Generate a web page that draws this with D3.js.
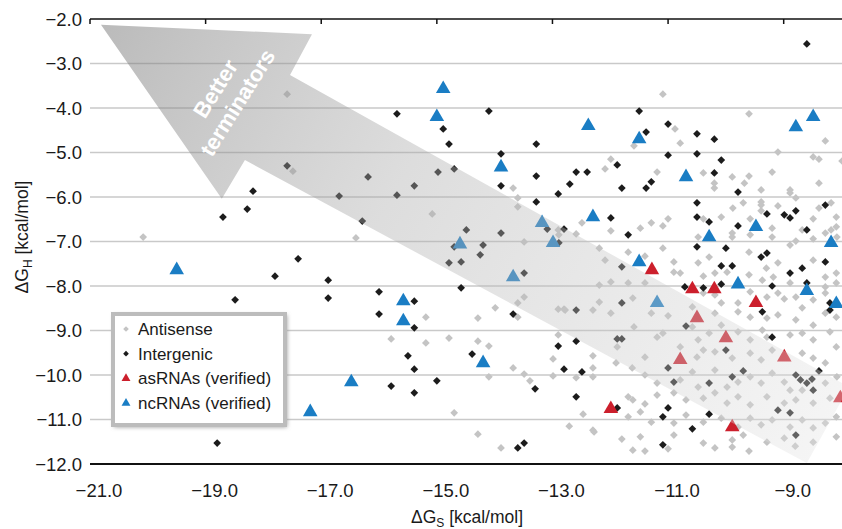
<!DOCTYPE html>
<html><head><meta charset="utf-8">
<script src="https://cdn.jsdelivr.net/npm/d3@7"></script>
<style>
body{margin:0;background:#fff;}
svg{display:block;font-family:"Liberation Sans",Arial,Helvetica,sans-serif;}
</style>
</head><body>
<svg id="chart" width="842" height="529"></svg>
<script>
// ---------- tick values ----------
const xTicks = [-21, -19, -17, -15, -13, -11, -9];
const yTicks = [-2, -3, -4, -5, -6, -7, -8, -9, -10, -11, -12];

// ---------- series (ΔGS, ΔGH) ----------
const antisense = [
[-20.08,-6.90],[-17.59,-3.69],[-17.49,-5.42],
[-15.08,-6.38],[-16.40,-6.92],[-13.68,-5.80],[-13.60,-6.02],[-13.60,-6.22],[-13.49,-7.01],[-12.90,-6.74],[-12.89,-6.85],
[-13.49,-8.25],[-13.60,-8.38],[-13.99,-8.49],[-14.29,-8.72],[-15.19,-8.70],[-13.60,-8.70],[-12.90,-8.52],[-12.80,-8.52],
[-15.79,-9.19],[-15.19,-9.28],[-14.79,-9.17],[-14.29,-9.24],[-14.10,-9.35],[-13.68,-9.84],[-14.10,-10.04],[-13.49,-9.98],[-13.39,-10.13],[-12.99,-9.64],[-12.99,-10.02],[-12.90,-9.10],[-14.70,-10.85],[-14.29,-11.33],[-13.89,-11.64],[-12.71,-11.15],
[-12.47,-10.88],[-12.28,-11.28],[-11.40,-11.71],
[-11.09,-3.69],[-9.60,-4.13],[-10.88,-4.47],[-10.79,-4.79],[-11.59,-4.85],[-8.28,-4.74],[-9.10,-4.99],[-8.49,-5.10],[-8.39,-5.15],[-7.99,-5.19],[-11.99,-5.15],[-12.09,-5.37],[-11.19,-5.44],[-10.39,-5.46],[-10.20,-5.69],[-10.20,-5.80],[-9.89,-5.55],[-9.68,-5.69],[-9.60,-5.53],[-9.39,-5.84],[-9.20,-5.44],[-8.89,-5.84],[-8.89,-5.91],[-8.79,-6.02],[-8.39,-5.69],
[-9.88,-6.25],[-9.70,-6.13],[-9.39,-6.11],[-9.39,-6.18],[-9.39,-6.31],[-9.10,-6.20],[-8.39,-6.25],[-8.18,-6.13],[-8.09,-6.45],[-8.18,-6.74],[-8.09,-6.67],
[-12.49,-6.58],[-12.59,-6.83],[-11.99,-6.76],[-11.48,-6.70],[-11.29,-6.58],[-11.09,-6.65],[-11.00,-6.49],[-10.39,-6.49],[-10.08,-6.45],[-9.89,-6.81],[-9.89,-6.90],[-9.58,-6.85],[-9.20,-6.70],[-9.20,-6.90],[-8.79,-6.99],[-8.68,-6.74],[-8.49,-6.49],[-8.49,-6.94],[-8.28,-6.81],[-8.08,-6.90],[-10.48,-6.90],[-9.58,-6.49],
[-12.19,-7.15],[-12.09,-7.42],[-11.69,-7.24],[-11.40,-7.33],[-11.09,-7.15],[-8.89,-7.08],[-9.60,-7.24],
[-10.90,-7.46],[-10.48,-7.48],[-10.29,-7.35],[-9.60,-7.75],[-9.30,-7.60],[-9.10,-7.48],[-8.49,-7.42],[-8.09,-7.71],[-8.28,-7.80],[-10.90,-7.69],[-10.79,-7.71],[-10.39,-7.78],[-10.19,-7.71],[-9.98,-7.69],[-9.37,-7.87],[-9.18,-7.80],[-8.89,-7.93],[-8.28,-8.02],[-8.09,-7.93],[-12.19,-7.98],[-11.99,-7.91],[-11.69,-7.93],[-11.40,-7.93],[-10.39,-8.16],[-10.19,-8.20],[-10.08,-8.38],[-9.79,-8.38],[-9.58,-8.13],[-9.29,-8.25],[-9.10,-8.16],[-8.99,-8.29],[-8.79,-8.25],[-8.68,-8.49],[-8.49,-8.31],[-8.28,-8.16],[-8.09,-8.70],
[-12.78,-8.54],[-12.30,-8.54],[-12.19,-8.36],[-11.99,-8.61],[-11.61,-8.27],[-11.29,-8.61],[-11.00,-8.67],[-10.58,-8.47],[-10.19,-8.61],[-9.79,-8.58],[-9.58,-8.70],[-9.29,-8.72],[-9.10,-8.65],[-8.79,-8.76],[-8.49,-8.88],[-8.28,-8.61],
[-11.59,-8.92],[-11.19,-9.15],[-11.09,-9.06],[-10.79,-9.37],[-10.58,-8.92],[-10.48,-9.21],[-10.29,-9.06],[-10.08,-8.88],[-9.79,-9.03],[-9.58,-9.21],[-9.37,-8.99],[-9.29,-9.15],[-8.89,-9.10],[-8.68,-9.06],[-8.49,-9.21],[-8.20,-9.03],[-8.09,-9.37],[-12.30,-9.57],[-11.88,-9.37],[-11.40,-9.60],[-10.50,-9.60],[-10.39,-9.44],[-10.19,-9.48],[-9.89,-9.62],[-9.58,-9.51],[-9.39,-9.66],[-9.20,-9.44],[-8.68,-9.51],[-8.49,-9.62],[-8.28,-9.73],
[-11.62,-9.84],[-11.40,-10.00],[-11.19,-10.18],[-10.79,-10.11],[-10.58,-9.93],[-10.48,-10.27],[-10.19,-9.89],[-9.98,-10.27],[-9.79,-10.16],[-9.58,-10.04],[-9.39,-10.18],[-9.20,-9.96],[-8.99,-10.16],[-8.89,-10.34],[-8.68,-10.34],[-8.28,-10.18],[-8.08,-10.04],[-12.30,-10.04],[-11.69,-10.49],[-11.61,-10.56],[-11.40,-10.65],[-11.19,-10.45],[-10.90,-10.40],[-10.69,-10.56],[-10.39,-10.52],[-10.19,-10.40],[-9.98,-10.63],[-9.79,-10.49],[-9.58,-10.67],[-9.29,-10.49],[-8.99,-10.63],[-8.79,-10.56],[-8.49,-10.63],[-8.20,-10.52],
[-12.30,-9.84],[-12.59,-10.06],[-11.90,-9.73],
[-12.30,-11.24],[-11.69,-10.94],[-11.48,-10.83],[-11.29,-11.06],[-10.90,-11.08],[-10.69,-10.90],[-10.39,-11.06],[-10.08,-10.97],[-9.79,-11.17],[-9.58,-10.97],[-9.39,-11.12],[-9.20,-11.01],[-8.89,-11.17],[-8.68,-11.01],[-8.49,-11.19],[-8.28,-11.08],[-8.09,-10.94],[-11.80,-11.44],[-11.48,-11.39],[-10.90,-11.35],[-10.39,-11.53],[-9.89,-11.46],[-9.70,-11.35],[-9.29,-11.51],[-8.99,-11.42],[-8.49,-11.51],[-8.09,-11.39],
[-11.61,-11.69],[-11.00,-11.66],[-10.19,-11.64],[-9.89,-11.62],[-9.60,-11.71],[-8.80,-11.60]
];

const intergenic = [
[-17.59,-5.30],[-18.18,-5.87],[-18.28,-6.27],[-18.70,-6.45],[-17.40,-7.39],[-17.80,-7.78],[-18.49,-8.31],[-18.80,-11.53],
[-15.69,-4.13],[-14.10,-4.07],[-14.89,-4.47],[-14.79,-4.81],[-13.28,-4.81],[-13.89,-5.03],[-13.28,-5.53],[-13.89,-5.75],[-12.90,-5.93],[-13.28,-6.11],
[-16.19,-5.55],[-16.69,-5.98],[-15.69,-5.96],[-15.39,-5.75],[-14.98,-5.44],[-14.70,-5.37],[-16.29,-6.54],[-14.49,-6.74],[-13.89,-6.81],[-14.20,-7.08],[-14.70,-7.12],[-13.09,-6.72],[-14.25,-7.30],[-14.79,-7.48],[-14.58,-7.46],[-13.49,-7.71],[-12.89,-7.03],[-12.80,-6.72],[-12.70,-5.71],
[-16.88,-7.87],[-16.88,-8.27],[-16.00,-8.13],[-16.00,-8.63],[-15.39,-8.34],[-15.39,-8.94],[-14.58,-8.04],[-13.68,-8.63],[-15.50,-9.57],[-15.39,-9.87],[-15.79,-10.25],[-15.39,-10.40],[-15.00,-10.13],[-14.39,-9.53],[-13.30,-10.31],[-12.90,-9.35],[-12.80,-9.87],[-13.60,-11.64],[-13.49,-11.53],
[-8.60,-2.56],[-11.50,-4.07],[-11.00,-4.36],[-11.38,-4.54],[-10.50,-4.58],[-10.20,-4.70],[-11.00,-5.06],[-10.50,-5.03],[-10.08,-5.17],[-11.88,-5.28],[-12.59,-5.44],[-12.40,-5.44],[-10.20,-5.46],[-11.29,-5.66],[-11.80,-5.80],[-11.38,-5.80],[-9.79,-5.89],[-10.50,-6.13],[-9.29,-6.38],[-8.99,-6.40],[-8.89,-6.47],[-8.79,-6.31],[-8.28,-6.18],[-11.99,-6.47],[-10.50,-6.45],[-10.29,-6.56],[-11.69,-6.85],[-9.79,-6.65],[-8.60,-6.74],[-10.50,-7.12],[-10.00,-7.15],
[-11.80,-7.57],[-10.08,-7.55],[-9.89,-7.55],[-9.39,-7.35],[-9.29,-7.26],[-8.89,-7.71],[-8.68,-7.60],[-8.28,-7.46],[-8.60,-7.93],[-10.71,-8.02],[-10.39,-8.04],[-10.08,-7.96],[-9.20,-8.00],[-9.37,-8.58],[-8.20,-8.38],[-8.20,-8.54],[-12.59,-8.54],[-12.59,-9.24],[-9.20,-9.15],[-12.49,-9.93],[-12.59,-10.49],[-11.88,-10.74],[-11.00,-10.74],[-11.09,-10.94],[-10.29,-10.88],[-10.58,-11.21],[-11.09,-11.57],
[-11.80,-8.38],[-10.69,-8.90],[-11.88,-9.19],[-11.80,-9.19],[-10.00,-9.44],[-11.00,-9.84],[-9.70,-9.91],[-9.89,-10.04],[-10.90,-10.16],[-10.29,-10.18],[-9.10,-10.79],[-8.79,-11.35],
[-8.79,-10.00],[-8.71,-10.11],[-8.60,-10.18],[-8.51,-10.09],[-8.39,-9.91],[-8.49,-10.34],[-8.89,-10.85]
];

const asRNAs = [
[-11.28,-7.64],[-10.58,-8.07],[-10.20,-8.07],[-9.48,-8.38],[-10.50,-8.72],[-10.00,-9.17],
[-10.79,-9.66],[-8.99,-9.60],[-8.02,-10.52],[-11.99,-10.76],[-9.89,-11.17]
];

const ncRNAs = [
[-19.50,-7.64],[-14.89,-3.57],[-15.00,-4.20],[-13.89,-5.33],[-12.38,-4.40],[-11.50,-4.70],[-10.69,-5.55],
[-8.79,-4.43],[-8.49,-4.20],[-12.30,-6.45],[-10.29,-6.90],[-9.48,-6.67],[-8.18,-7.03],[-11.50,-7.46],
[-9.79,-7.96],[-8.60,-8.11],[-8.09,-8.40],[-11.19,-8.38],[-13.18,-6.58],[-12.99,-7.03],[-14.60,-7.06],
[-13.68,-7.80],[-15.58,-8.34],[-15.58,-8.79],[-14.20,-9.73],[-16.48,-10.16],[-17.19,-10.83]
];

// annotation arrow outline, in data units
const arrowOutline = [
[-20.81,-2.13],[-17.16,-2.34],[-17.54,-3.26],[-7.87,-10.27],[-8.60,-11.98],[-18.32,-5.17],[-18.72,-6.04]
];
const arrowLabel = ["Better", "terminators"];
const legendItems = [
  {label:"Antisense", kind:"antisense"},
  {label:"Intergenic", kind:"intergenic"},
  {label:"asRNAs (verified)", kind:"as"},
  {label:"ncRNAs (verified)", kind:"nc"}
];

// ---------- drawing ----------
const W = 842, H = 529;
const svg = d3.select("#chart");
const x = d3.scaleLinear().domain([-21, -8]).range([90, 841.5]);
const y = d3.scaleLinear().domain([-12, -2]).range([464, 19]);
const fmt = d3.format(".1f");

const colors = {antisense:"#c4c4c4", intergenic:"#1c1c1c", as:"#cc1f2c", nc:"#1a7dc4"};

const defs = svg.append("defs");
const grad = defs.append("linearGradient").attr("id","arrowGrad")
  .attr("gradientUnits","userSpaceOnUse")
  .attr("x1", x(-20.81)).attr("y1", y(-2.13))
  .attr("x2", x(-8.2)).attr("y2", y(-11.1));
grad.append("stop").attr("offset","0").attr("stop-color","#767676").attr("stop-opacity",0.5);
grad.append("stop").attr("offset","0.4").attr("stop-color","#a9a9a9").attr("stop-opacity",0.4);
grad.append("stop").attr("offset","1").attr("stop-color","#e2e2e2").attr("stop-opacity",0.36);

const sh = defs.append("filter").attr("id","shadow").attr("x","-20%").attr("y","-20%").attr("width","140%").attr("height","140%");
sh.append("feGaussianBlur").attr("stdDeviation",2);

// gridlines
svg.append("g").selectAll("line").data(yTicks.filter(v => v !== -2 && v !== -12)).join("line")
  .attr("x1", x(-21)).attr("x2", W)
  .attr("y1", d => y(d)).attr("y2", d => y(d))
  .attr("stroke", "#c9c9c9").attr("stroke-width", 1.5);

// points
const diamond = d3.symbol().type(d3.symbolSquare).size(30);
const tri = d3.symbol().type(d3.symbolTriangle).size(92);

svg.append("g").selectAll("path").data(antisense).join("path")
  .attr("d", diamond)
  .attr("transform", d => `translate(${x(d[0])},${y(d[1])}) rotate(45)`)
  .attr("fill", colors.antisense);
svg.append("g").selectAll("path").data(intergenic).join("path")
  .attr("d", diamond)
  .attr("transform", d => `translate(${x(d[0])},${y(d[1])}) rotate(45)`)
  .attr("fill", colors.intergenic);
svg.append("g").selectAll("path").data(asRNAs).join("path")
  .attr("d", tri)
  .attr("transform", d => `translate(${x(d[0])},${y(d[1])})`)
  .attr("fill", colors.as);
svg.append("g").selectAll("path").data(ncRNAs).join("path")
  .attr("d", tri)
  .attr("transform", d => `translate(${x(d[0])},${y(d[1])})`)
  .attr("fill", colors.nc);

// arrow overlay
svg.append("path")
  .attr("d", d3.line().x(d => x(d[0])).y(d => y(d[1])).curve(d3.curveLinearClosed)(arrowOutline))
  .attr("fill", "url(#arrowGrad)");

const lab = svg.append("g")
  .attr("transform", `translate(${x(-18.63)},${y(-3.73)}) rotate(-58)`);
lab.selectAll("text").data(arrowLabel).join("text")
  .attr("x", 0).attr("y", (d, i) => i === 0 ? -6 : 20)
  .attr("text-anchor", "middle")
  .attr("fill", "#ffffff").attr("font-weight", "bold").attr("font-size", 22)
  .text(d => d);

// axes lines
svg.append("line").attr("x1", x(-21)).attr("x2", W).attr("y1", y(-2)).attr("y2", y(-2))
  .attr("stroke", "#111").attr("stroke-width", 1.5);
svg.append("line").attr("x1", x(-21)).attr("x2", W).attr("y1", y(-12)).attr("y2", y(-12))
  .attr("stroke", "#111").attr("stroke-width", 2);
svg.append("g").selectAll("line").data(xTicks).join("line")
  .attr("x1", d => x(d)).attr("x2", d => x(d))
  .attr("y1", y(-2)).attr("y2", y(-2) + 5)
  .attr("stroke", "#111").attr("stroke-width", 1.5);

// tick labels
svg.append("g").selectAll("text").data(yTicks).join("text")
  .attr("x", 82).attr("y", d => y(d) + 6.5)
  .attr("text-anchor", "end").attr("font-size", 18.5).attr("fill", "#1a1a1a")
  .text(d => fmt(d));
svg.append("g").selectAll("text").data(xTicks).join("text")
  .attr("x", d => x(d) + 9).attr("y", 497)
  .attr("text-anchor", "middle").attr("font-size", 18.5).attr("fill", "#1a1a1a")
  .text(d => fmt(d));

// axis titles
const xt = svg.append("text").attr("x", 467).attr("y", 523).attr("text-anchor", "middle")
  .attr("font-size", 17.5).attr("fill", "#1a1a1a");
xt.append("tspan").text("ΔG");
xt.append("tspan").attr("font-size", 12).attr("dy", 4).text("S");
xt.append("tspan").attr("dy", -4).text(" [kcal/mol]");

const yt = svg.append("text").attr("transform", "translate(28,237) rotate(-90)").attr("text-anchor", "middle")
  .attr("font-size", 17.5).attr("fill", "#1a1a1a");
yt.append("tspan").text("ΔG");
yt.append("tspan").attr("font-size", 12).attr("dy", 4).text("H");
yt.append("tspan").attr("dy", -4).text(" [kcal/mol]");

// legend
const lg = svg.append("g").attr("transform", "translate(113,314)");
lg.append("rect").attr("x", 1).attr("y", 1).attr("width", 173).attr("height", 112)
  .attr("fill", "#9a9a9a").attr("filter", "url(#shadow)");
lg.append("rect").attr("x", 0).attr("y", 0).attr("width", 172).attr("height", 111)
  .attr("fill", "#fff").attr("stroke", "#bcbcbc").attr("stroke-width", 4);
const rows = lg.selectAll("g.row").data(legendItems).join("g").attr("class", "row")
  .attr("transform", (d, i) => `translate(0,${15 + i * 24.7})`);
rows.append("path")
  .attr("d", d => (d.kind === "as" || d.kind === "nc")
    ? d3.symbol().type(d3.symbolTriangle).size(34)()
    : d3.symbol().type(d3.symbolSquare).size(16)())
  .attr("transform", d => (d.kind === "as" || d.kind === "nc") ? "translate(13,0)" : "translate(13,0) rotate(45)")
  .attr("fill", d => colors[d.kind]);
rows.append("text").attr("x", 25).attr("y", 6).attr("font-size", 17).attr("fill", "#1a1a1a")
  .text(d => d.label);
</script>
</body></html>
